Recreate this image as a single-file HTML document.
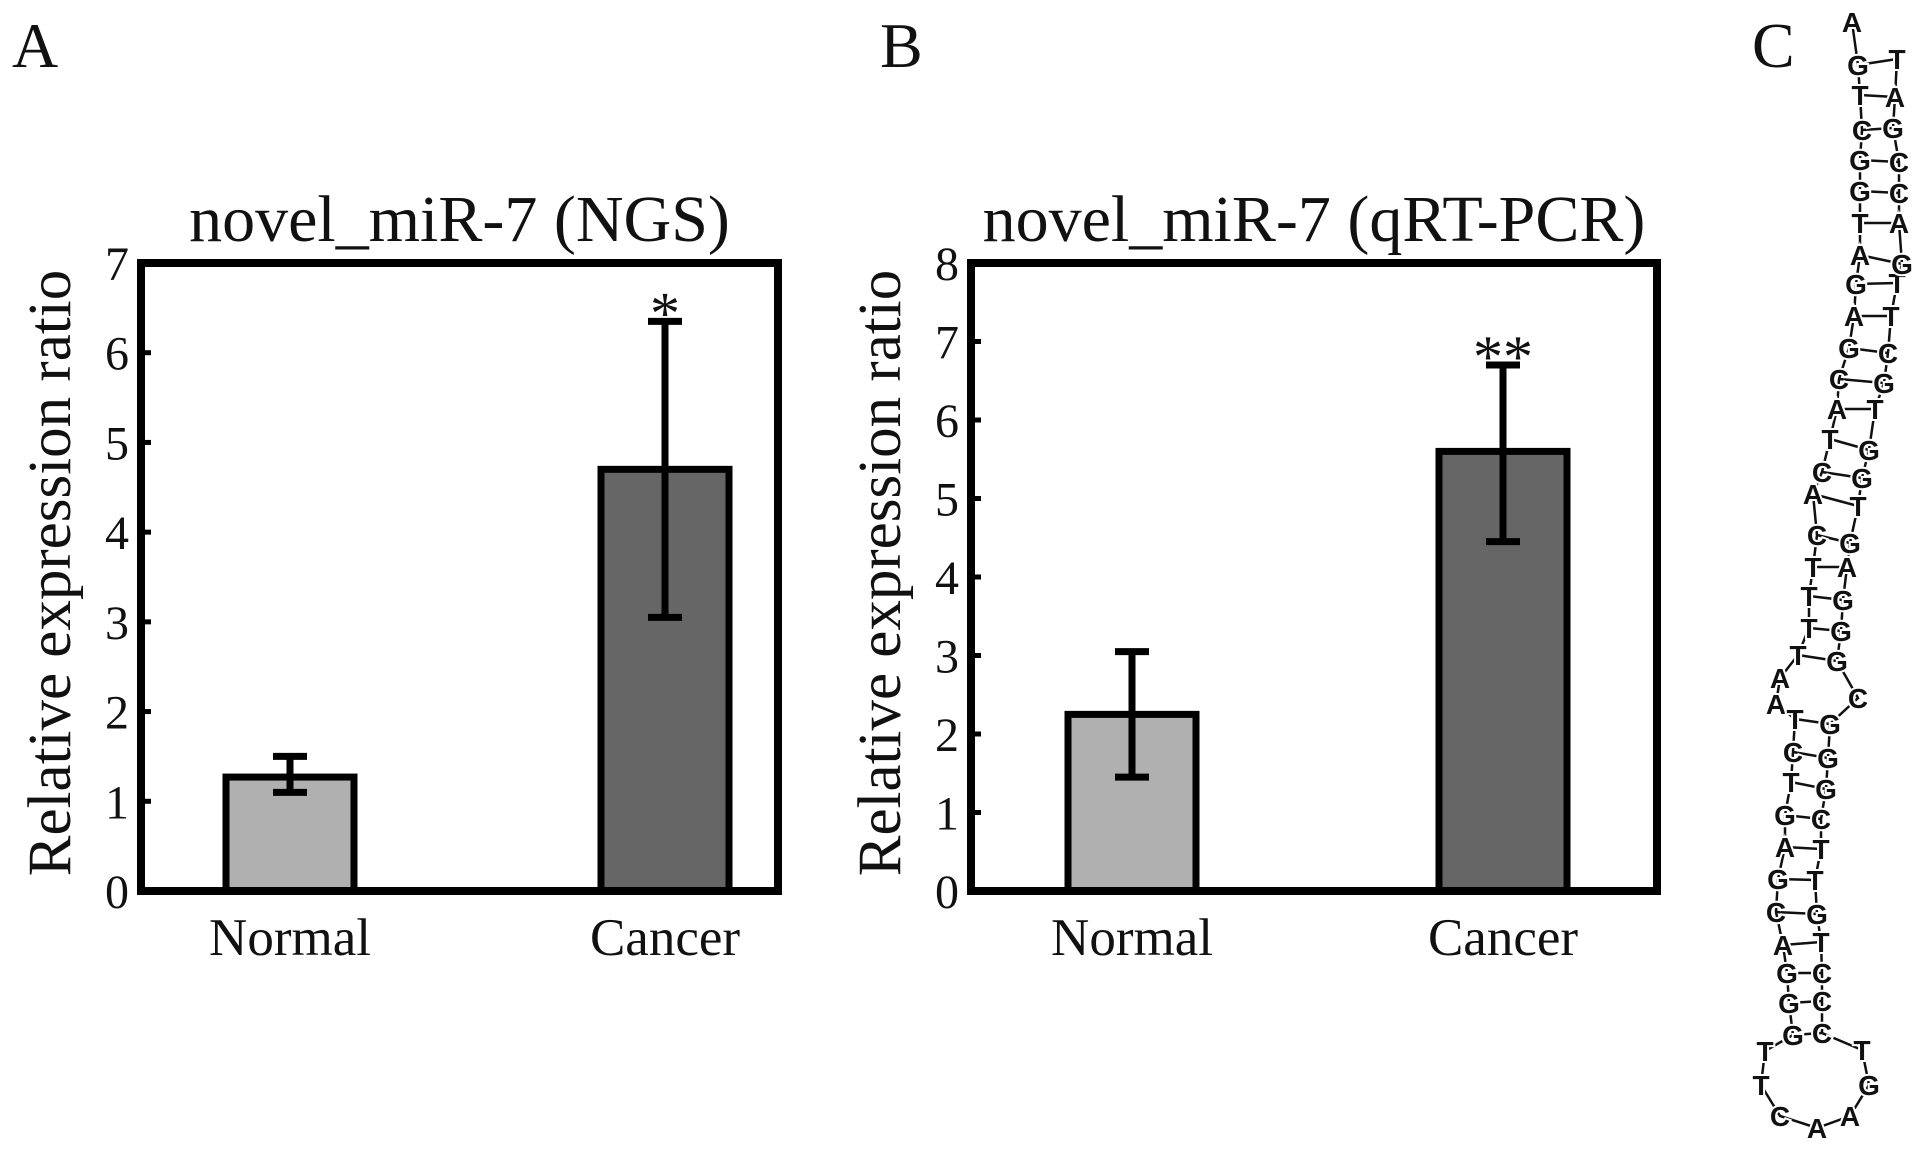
<!DOCTYPE html>
<html><head><meta charset="utf-8"><style>
html,body{margin:0;padding:0;background:#fff;}
svg{display:block;}
text{font-family:"Liberation Serif",serif;fill:#111;}
.nt{font-family:"Liberation Sans",sans-serif;font-size:28px;font-weight:bold;fill:#111;stroke:#fff;stroke-width:4px;paint-order:stroke;}
</style></head><body>
<svg id="fig" width="1913" height="1155" viewBox="0 0 1913 1155" xmlns="http://www.w3.org/2000/svg">
<text x="12" y="67" font-size="64">A</text>
<text x="880" y="67" font-size="64">B</text>
<text x="1752" y="67" font-size="64">C</text>
<g id="chartA"></g>
<g id="chartB"></g>
<g id="rna"></g>
</svg>
<script>
const NS="http://www.w3.org/2000/svg";
const categories=["Normal","Cancer"];
const aValues=[1.27,4.7];
const aErrLow=[1.1,3.05];
const aErrHigh=[1.5,6.35];
const aTicks=[0,1,2,3,4,5,6,7];
const aSig=["","*"];
const bValues=[2.25,5.6];
const bErrLow=[1.45,4.45];
const bErrHigh=[3.05,6.7];
const bTicks=[0,1,2,3,4,5,6,7,8];
const bSig=["","**"];
const fills=["#b0b0b0","#666666"];

function mk(parent,tag,attrs){const e=document.createElementNS(NS,tag);for(const k in attrs)e.setAttribute(k,attrs[k]);parent.appendChild(e);return e;}

function drawChart(g,cfg){
  const {left,right,top,bottom,ymax,ticks,values,lo,hi,sig,title,barX,barW}=cfg;
  const y=v=>bottom-(v/ymax)*(bottom-top);
  const t=mk(g,'text',{x:(left+right)/2,y:top-22,'font-size':66,'text-anchor':'middle'});t.textContent=title;
  
  
  const yl=mk(g,'text',{transform:`translate(${left-71},${(top+bottom)/2-4}) rotate(-90)`,'font-size':61,'text-anchor':'middle'});yl.textContent="Relative expression ratio";
  
  
  ticks.forEach(v=>{
    const tl=mk(g,'text',{x:left-12,y:y(v)+17,'font-size':48,'text-anchor':'end'});tl.textContent=v;
    
    
    const tk=mk(g,'line',{x1:left,x2:left+10,y1:y(v),y2:y(v),stroke:'#000','stroke-width':5});
    
    
  });
  values.forEach((v,i)=>{
    const cx=barX(i);
    const r=mk(g,'rect',{x:cx-barW/2,y:y(v),width:barW,height:bottom-y(v),fill:fills[i],stroke:'#000','stroke-width':7});
    
    
    const e=mk(g,'path',{d:`M${cx},${y(lo[i])}V${y(hi[i])}M${cx-17},${y(lo[i])}h34M${cx-17},${y(hi[i])}h34`,stroke:'#000','stroke-width':7,fill:'none'});
    
    
    if(sig[i]){const s=mk(g,'text',{x:cx,y:y(hi[i])+12,'font-size':60,'text-anchor':'middle'});s.textContent=sig[i];
      
      }
    const cl=mk(g,'text',{x:cx,y:bottom+64,'font-size':53,'text-anchor':'middle'});cl.textContent=categories[i];
    
    
  });
  const f=mk(g,'rect',{x:left,y:top,width:right-left,height:bottom-top,fill:'none',stroke:'#000','stroke-width':8});
  
  
}
drawChart(document.getElementById('chartA'),{left:141,right:778,top:263,bottom:891,ymax:7,ticks:aTicks,values:aValues,lo:aErrLow,hi:aErrHigh,sig:aSig,title:"novel_miR-7 (NGS)",barX:i=>[290,665][i],barW:128});
drawChart(document.getElementById('chartB'),{left:971,right:1657,top:263,bottom:891,ymax:8,ticks:bTicks,values:bValues,lo:bErrLow,hi:bErrHigh,sig:bSig,title:"novel_miR-7 (qRT-PCR)",barX:i=>[1132,1503][i],barW:128});

// RNA hairpin
const leftStrand=[["A",1852,22],["G",1858,65],["T",1860,95],["C",1862,130],["G",1860,160],["G",1860,191],["T",1860,223],["A",1860,255],["G",1856,284],["A",1854,316],["G",1849,348],["C",1839,379],["A",1837,409],["T",1830,439],["C",1822,472],["A",1813,494],["C",1817,535],["T",1813,567],["T",1809,596],["T",1809,628],["T",1798,655],["A",1780,678],["A",1776,704],["T",1795,719],["C",1793,752],["T",1791,782],["G",1785,815],["A",1785,847],["G",1778,879],["C",1776,912],["A",1783,945],["G",1787,973],["G",1789,1003],["G",1793,1035]];
const loop=[["T",1765,1051],["T",1761,1085],["C",1780,1116],["A",1817,1128],["A",1850,1116],["G",1869,1085],["T",1862,1050]];
const rightStrand=[["T",1897,59],["A",1895,97],["G",1893,128],["C",1899,162],["C",1899,193],["A",1899,223],["G",1902,264],["T",1897,283],["T",1891,316],["C",1888,353],["G",1884,383],["T",1875,409],["G",1869,450],["G",1862,478],["T",1858,506],["G",1850,543],["A",1847,567],["G",1843,600],["G",1841,631],["G",1837,661],["C",1858,698],["G",1830,724],["G",1828,758],["G",1826,789],["C",1821,819],["T",1821,849],["T",1815,880],["G",1817,914],["T",1821,942],["C",1822,973],["C",1822,1001],["C",1822,1033]];
const pairs=[[1,0],[2,1],[3,2],[4,3],[5,4],[6,5],[7,6],[8,7],[9,8],[10,9],[11,10],[12,11],[13,12],[14,13],[15,14],[16,15],[17,16],[18,17],[19,18],[20,19],[23,21],[24,22],[25,23],[26,24],[27,25],[28,26],[29,27],[30,28],[31,29],[32,30],[33,31]];
const rg=document.getElementById('rna');
const chain=leftStrand.concat(loop).concat(rightStrand.slice().reverse());
const bb=mk(rg,'polyline',{points:chain.map(p=>p[1]+','+p[2]).join(' '),fill:'none',stroke:'#111','stroke-width':2.5});


pairs.forEach(([l,r])=>{
  const a=leftStrand[l],b=rightStrand[r];
  const pl=mk(rg,'line',{x1:a[1],y1:a[2],x2:b[1],y2:b[2],stroke:'#111','stroke-width':2.5});
  
  
});
chain.forEach(p=>{
  const t=mk(rg,'text',{x:p[1],y:p[2]+10,'text-anchor':'middle',class:'nt'});t.textContent=p[0];
  
  
});
</script>
</body></html>
